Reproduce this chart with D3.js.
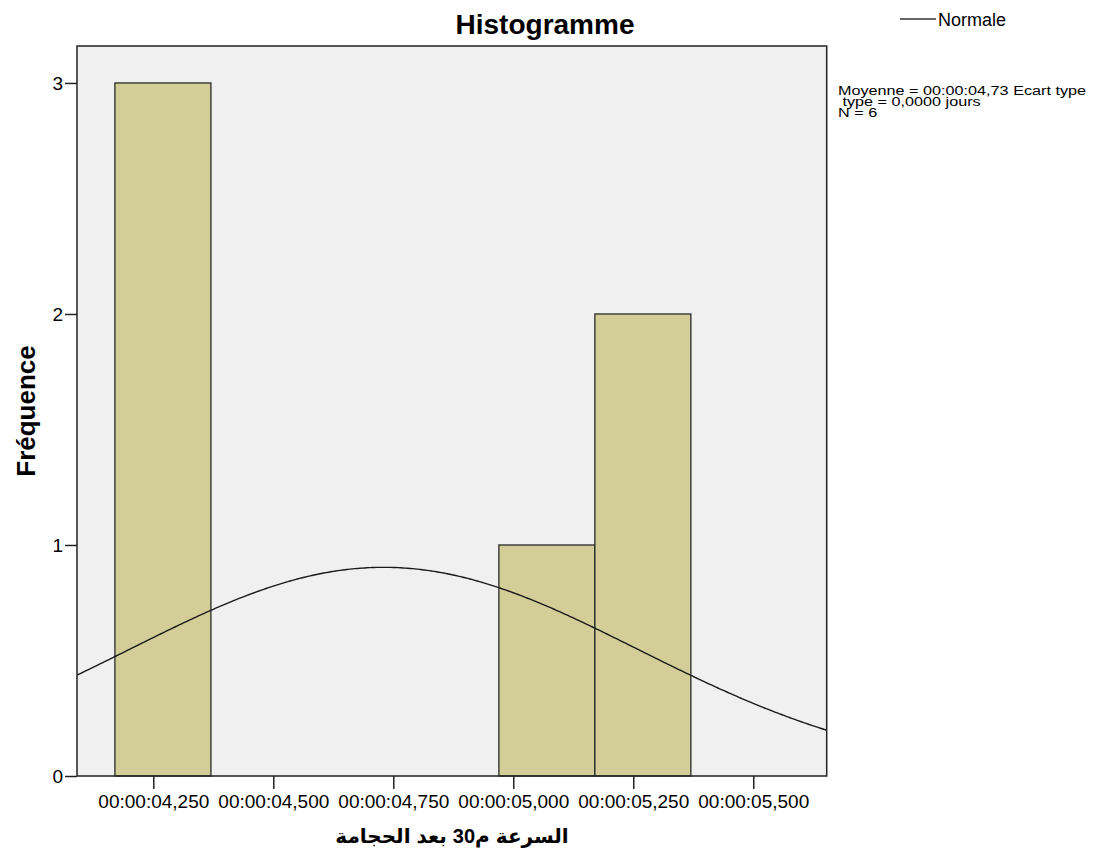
<!DOCTYPE html>
<html>
<head>
<meta charset="utf-8">
<script src="https://cdn.jsdelivr.net/npm/d3@7"></script>
<style>
  body { margin: 0; background: #fff; }
  text { font-family: Arial, "Liberation Sans", "DejaVu Sans", sans-serif; fill: #000; }
</style>
</head>
<body>
<script>
// histogram bins (seconds), width 0.2 s
var binStarts = [4.17, 4.37, 4.57, 4.77, 4.97, 5.17];
var counts = [3, 0, 0, 0, 1, 2];
var binWidth = 0.2;
// x tick values (seconds) and their labels
var xTicks = [4.25, 4.5, 4.75, 5.0, 5.25, 5.5];
var xTickLabels = ["00:00:04,250", "00:00:04,500", "00:00:04,750", "00:00:05,000", "00:00:05,250", "00:00:05,500"];
var yTicks = [0, 1, 2, 3];
// fitted normal
var mean = 4.73;
var sd = 0.53;
var n = 6;
var statsLines = ["Moyenne = 00:00:04,73 Ecart type", " type = 0,0000 jours", "N = 6"];
// x axis title, words in the order they appear left to right
var xTitleWords = ["الحجامة", "بعد", "30م", "السرعة"];

function init() {
    var w = 1102;
    var h = 861;
    var left = 77, right = 826.7, top = 46, bottom = 776;

    var svg = d3.select("body")
        .append("svg")
        .attr("width", w)
        .attr("height", h);

    var x = d3.scaleLinear().domain([4.091, 5.653]).range([left, right]);
    var y = d3.scaleLinear().domain([0, 3.16]).range([bottom, top]);

    //plot background
    svg.append("rect")
        .attr("x", left).attr("y", top)
        .attr("width", right - left).attr("height", bottom - top)
        .attr("fill", "#f0f0f0");

    svg.append("clipPath").attr("id", "clip")
        .append("rect")
        .attr("x", left).attr("y", top)
        .attr("width", right - left).attr("height", bottom - top);

    //bars
    var bins = binStarts.map(function (s, i) { return { x0: s, x1: s + binWidth, n: counts[i] }; })
        .filter(function (d) { return d.n > 0; });
    svg.selectAll("rect.bar")
        .data(bins)
        .enter()
        .append("rect")
        .attr("class", "bar")
        .attr("x", function (d) { return x(d.x0); })
        .attr("y", function (d) { return y(d.n); })
        .attr("width", function (d) { return x(d.x1) - x(d.x0); })
        .attr("height", function (d) { return y(0) - y(d.n); })
        .attr("fill", "#d3ce98")
        .attr("stroke", "#2a2a2a")
        .attr("stroke-width", 1.3);

    //normal curve
    var pts = d3.range(4.09, 5.66, 0.005).map(function (v) {
        var z = (v - mean) / sd;
        return [v, n * binWidth * Math.exp(-z * z / 2) / (sd * Math.sqrt(2 * Math.PI))];
    });
    var line = d3.line()
        .x(function (d) { return x(d[0]); })
        .y(function (d) { return y(d[1]); })
        .curve(d3.curveBasis);
    svg.append("path")
        .datum(pts)
        .attr("clip-path", "url(#clip)")
        .attr("d", line)
        .attr("fill", "none")
        .attr("stroke", "#1a1a1a")
        .attr("stroke-width", 1.4);

    //frame
    svg.append("rect")
        .attr("x", left).attr("y", top)
        .attr("width", right - left).attr("height", bottom - top)
        .attr("fill", "none")
        .attr("stroke", "#222")
        .attr("stroke-width", 1.5);

    //axes
    var xAxis = d3.axisBottom(x)
        .tickValues(xTicks)
        .tickSize(13)
        .tickSizeOuter(0)
        .tickFormat(function (d, i) { return xTickLabels[i]; });
    var gx = svg.append("g")
        .attr("transform", "translate(0," + bottom + ")")
        .call(xAxis);
    gx.select(".domain").remove();
    gx.selectAll("line").attr("stroke", "#222").attr("stroke-width", 1.5);
    gx.selectAll("text")
        .attr("y", 19)
        .attr("font-size", "19px")
        .attr("fill", "#111");

    var yAxis = d3.axisLeft(y)
        .tickValues(yTicks)
        .tickSize(12)
        .tickSizeOuter(0)
        .tickFormat(d3.format("d"));
    var gy = svg.append("g")
        .attr("transform", "translate(" + left + ",0)")
        .call(yAxis);
    gy.select(".domain").remove();
    gy.selectAll("line").attr("stroke", "#222").attr("stroke-width", 1.5);
    gy.selectAll("text")
        .attr("x", -14)
        .attr("font-size", "19px")
        .attr("fill", "#111");

    //title
    svg.append("text")
        .attr("x", 545).attr("y", 34)
        .attr("text-anchor", "middle")
        .attr("font-size", "28px")
        .attr("font-weight", "bold")
        .text("Histogramme");

    //y label
    svg.append("text")
        .attr("transform", "translate(35,411) rotate(-90)")
        .attr("text-anchor", "middle")
        .attr("font-size", "26px")
        .attr("font-weight", "bold")
        .text("Fréquence");

    //x label: one text per word so the word order is fixed
    var gt = svg.append("g");
    var words = gt.selectAll("text")
        .data(xTitleWords)
        .enter()
        .append("text")
        .attr("y", 843)
        .attr("font-size", "20px")
        .attr("font-weight", "bold")
        .text(function (d) { return d; });
    var gap = 6;
    var widths = [];
    words.each(function () { widths.push(this.getComputedTextLength()); });
    var total = d3.sum(widths) + gap * (widths.length - 1);
    var cx = 452 - total / 2;
    words.attr("x", function (d, i) {
        var p = cx;
        cx += widths[i] + gap;
        return p;
    });

    //legend
    svg.append("line")
        .attr("x1", 900).attr("x2", 936)
        .attr("y1", 19).attr("y2", 19)
        .attr("stroke", "#333").attr("stroke-width", 1.5);
    svg.append("text")
        .attr("x", 938).attr("y", 26)
        .attr("font-size", "18px")
        .attr("fill", "#111")
        .text("Normale");

    //stats, stretched sideways like the original
    svg.append("g")
        .attr("transform", "translate(838,0) scale(1.2,1)")
        .selectAll("text")
        .data(statsLines)
        .enter()
        .append("text")
        .attr("x", 0)
        .attr("y", function (d, i) { return 95 + i * 11; })
        .attr("font-size", "13.5px")
        .attr("xml:space", "preserve")
        .style("white-space", "pre")
        .attr("fill", "#111")
        .text(function (d) { return d; });
}
window.onload = init;
</script>
</body>
</html>
